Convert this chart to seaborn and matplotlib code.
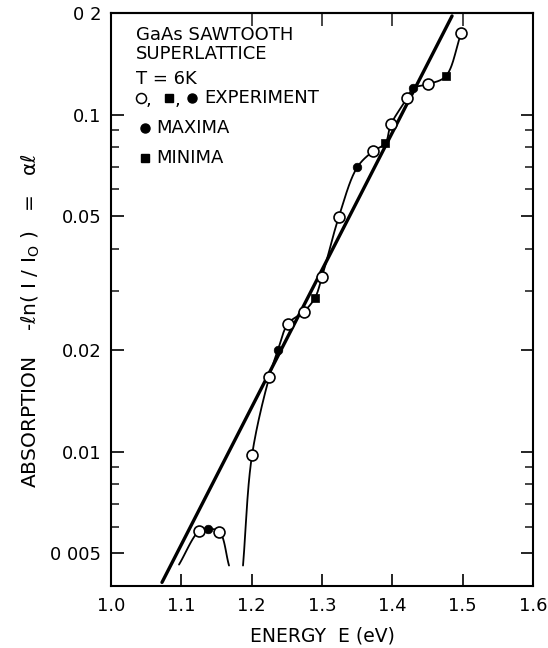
import numpy as np
import pandas as pd
import matplotlib
matplotlib.use("Agg")
import matplotlib.pyplot as plt
import seaborn as sns
from matplotlib.ticker import FixedLocator, FixedFormatter, NullFormatter

# ---------------- data ----------------
open_E = [1.125, 1.154, 1.2005, 1.225, 1.2517, 1.274, 1.300, 1.324, 1.3725, 1.398, 1.421, 1.4507, 1.4977]
open_A = [0.00581, 0.00580, 0.00977, 0.01666, 0.0240, 0.0260, 0.0330, 0.0498, 0.0778, 0.0935, 0.1118, 0.1230, 0.1744]
max_E = [1.138, 1.2375, 1.350, 1.4294]
max_A = [0.0059, 0.0201, 0.0697, 0.1197]
min_E = [1.290, 1.390, 1.476]
min_A = [0.0286, 0.0822, 0.1299]
# free ends of the two hand-drawn curves
low_curve_ends_E = [1.0967, 1.1678]
low_curve_ends_A = [0.00463, 0.00460]
main_curve_start_E = [1.1877]
main_curve_start_A = [0.00460]
# straight-line fit
fit_E = [1.0725, 1.4849]
fit_A = [0.0041, 0.196]

x_ticks = [1.0, 1.1, 1.2, 1.3, 1.4, 1.5, 1.6]
x_labels = ["1.0", "1.1", "1.2", "1.3", "1.4", "1.5", "1.6"]
y_ticks = [0.005, 0.01, 0.02, 0.05, 0.1, 0.2]
y_labels = ["0 005", "0.01", "0.02", "0.05", "0.1", "0 2"]
y_minor = [0.006, 0.007, 0.008, 0.009, 0.03, 0.04, 0.06, 0.07, 0.08, 0.09]
top_ticks = [1.2, 1.3, 1.4, 1.5]

# ---------------- style ----------------
sns.set_theme(style="ticks")
plt.rcParams["font.family"] = ["DejaVu Sans"]
plt.rcParams["mathtext.fontset"] = "dejavusans"

W, H = 548, 648
fig = plt.figure(figsize=(W / 100, H / 100), dpi=100)
L, R, T, B = 111, 533, 13, 586
ax = fig.add_axes([L / W, 1 - B / H, (R - L) / W, (B - T) / H])
ax.set_yscale("log")
ax.set_xlim(1.0, 1.6)
ax.set_ylim(0.004, 0.2)


def smooth(E, A, n=30):
    """centripetal Catmull-Rom through the given points (display-like space)."""
    P = np.column_stack([np.asarray(E) * 703.3, np.log10(A) * 336.4])
    P = np.vstack([2 * P[0] - P[1], P, 2 * P[-1] - P[-2]])
    out = []
    for i in range(1, len(P) - 2):
        p0, p1, p2, p3 = P[i - 1:i + 3]
        t0 = 0.0
        t1 = t0 + np.linalg.norm(p1 - p0) ** 0.5
        t2 = t1 + np.linalg.norm(p2 - p1) ** 0.5
        t3 = t2 + np.linalg.norm(p3 - p2) ** 0.5
        t = np.linspace(t1, t2, n)[:, None]
        A1 = (t1 - t) / (t1 - t0) * p0 + (t - t0) / (t1 - t0) * p1
        A2 = (t2 - t) / (t2 - t1) * p1 + (t - t1) / (t2 - t1) * p2
        A3 = (t3 - t) / (t3 - t2) * p2 + (t - t2) / (t3 - t2) * p3
        B1 = (t2 - t) / (t2 - t0) * A1 + (t - t0) / (t2 - t0) * A2
        B2 = (t3 - t) / (t3 - t1) * A2 + (t - t1) / (t3 - t1) * A3
        C = (t2 - t) / (t2 - t1) * B1 + (t - t1) / (t2 - t1) * B2
        out.append(C if i == 1 else C[1:])
    C = np.vstack(out)
    return C[:, 0] / 703.3, 10 ** (C[:, 1] / 336.4)


pts = pd.DataFrame({
    "E": open_E + max_E + min_E,
    "A": open_A + max_A + min_A,
}).sort_values("E")

low = pts[pts.E < 1.17]
low_E = [low_curve_ends_E[0]] + low.E.tolist() + [low_curve_ends_E[1]]
low_A = [low_curve_ends_A[0]] + low.A.tolist() + [low_curve_ends_A[1]]
main = pts[pts.E > 1.18]
main_E = main_curve_start_E + main.E.tolist()
main_A = main_curve_start_A + main.A.tolist()

for E, A in [(low_E, low_A), (main_E, main_A)]:
    sx, sy = smooth(E, A)
    sns.lineplot(x=sx, y=sy, sort=False, estimator=None, color="black",
                 linewidth=1.3, ax=ax, zorder=2)

sns.lineplot(x=fit_E, y=fit_A, sort=False, estimator=None, color="black",
             linewidth=2.4, ax=ax, zorder=3)

sns.scatterplot(x=open_E, y=open_A, marker="o", s=62, color="white",
                edgecolor="black", linewidth=1.2, ax=ax, zorder=5)
sns.scatterplot(x=max_E, y=max_A, marker="o", s=38, color="black",
                edgecolor="black", linewidth=0.5, ax=ax, zorder=5)
sns.scatterplot(x=min_E, y=min_A, marker="s", s=36, color="black",
                edgecolor="black", linewidth=0.5, ax=ax, zorder=5)

# ---------------- axes styling ----------------
for s in ax.spines.values():
    s.set_linewidth(1.5)
    s.set_color("black")
    s.set_visible(True)

ax.xaxis.set_major_locator(FixedLocator(x_ticks))
ax.xaxis.set_major_formatter(FixedFormatter(x_labels))
ax.yaxis.set_major_locator(FixedLocator(y_ticks))
ax.yaxis.set_major_formatter(FixedFormatter(y_labels))
ax.yaxis.set_minor_locator(FixedLocator(y_minor))
ax.yaxis.set_minor_formatter(NullFormatter())
ax.xaxis.set_minor_locator(FixedLocator([]))
ax.tick_params(axis="both", which="major", direction="in", length=9, width=1.2,
               labelsize=13, colors="black", pad=7)
ax.tick_params(axis="y", which="both", left=True, right=True, direction="in")
ax.tick_params(axis="y", which="minor", length=6, width=1.2)
ax.tick_params(axis="x", top=False, bottom=True, pad=8)

sec = ax.secondary_xaxis("top")
sec.set_xticks(top_ticks)
sec.tick_params(direction="in", length=9, width=1.2, labeltop=False)
sec.spines["top"].set_linewidth(1.5)

ax.set_xlabel("")
ax.set_ylabel("")
fig.text(322 / W, 1 - 636 / H, "ENERGY  E (eV)", ha="center", va="center",
         fontsize=13.5, color="black")
fig.text(31 / W, 1 - 321 / H,
         "ABSORPTION    -ℓn( I / I$_{\\mathrm{O}}$ )   =   αℓ",
         rotation=90, ha="center", va="center", fontsize=14.5, color="black")

# ---------------- legend text block ----------------
def fx(x):
    return x / W


def fy(y):
    return 1 - y / H


tkw = dict(fontsize=13, color="black", va="center", ha="left")
fig.text(fx(136), fy(35), "GaAs SAWTOOTH", **tkw)
fig.text(fx(136), fy(54), "SUPERLATTICE", **tkw)
fig.text(fx(136), fy(79), "T = 6K", **tkw)
fig.text(fx(146), fy(100), ",", **tkw)
fig.text(fx(175), fy(100), ",", **tkw)
fig.text(fx(204), fy(98), "EXPERIMENT", **tkw)
fig.text(fx(156), fy(128), "MAXIMA", **tkw)
fig.text(fx(156), fy(158), "MINIMA", **tkw)

mk = dict(transform=fig.transFigure, clip_on=False, linestyle="none", zorder=6)
ax.plot([fx(141)], [fy(98)], marker="o", markersize=7.2, markerfacecolor="white",
        markeredgecolor="black", markeredgewidth=1.1, **mk)
ax.plot([fx(169)], [fy(98)], marker="s", markersize=6, color="black", **mk)
ax.plot([fx(192)], [fy(98)], marker="o", markersize=6.5, color="black", **mk)
ax.plot([fx(145)], [fy(128)], marker="o", markersize=6.5, color="black", **mk)
ax.plot([fx(145)], [fy(158)], marker="s", markersize=6, color="black", **mk)

fig.savefig("out.png", dpi=100, facecolor="white")
